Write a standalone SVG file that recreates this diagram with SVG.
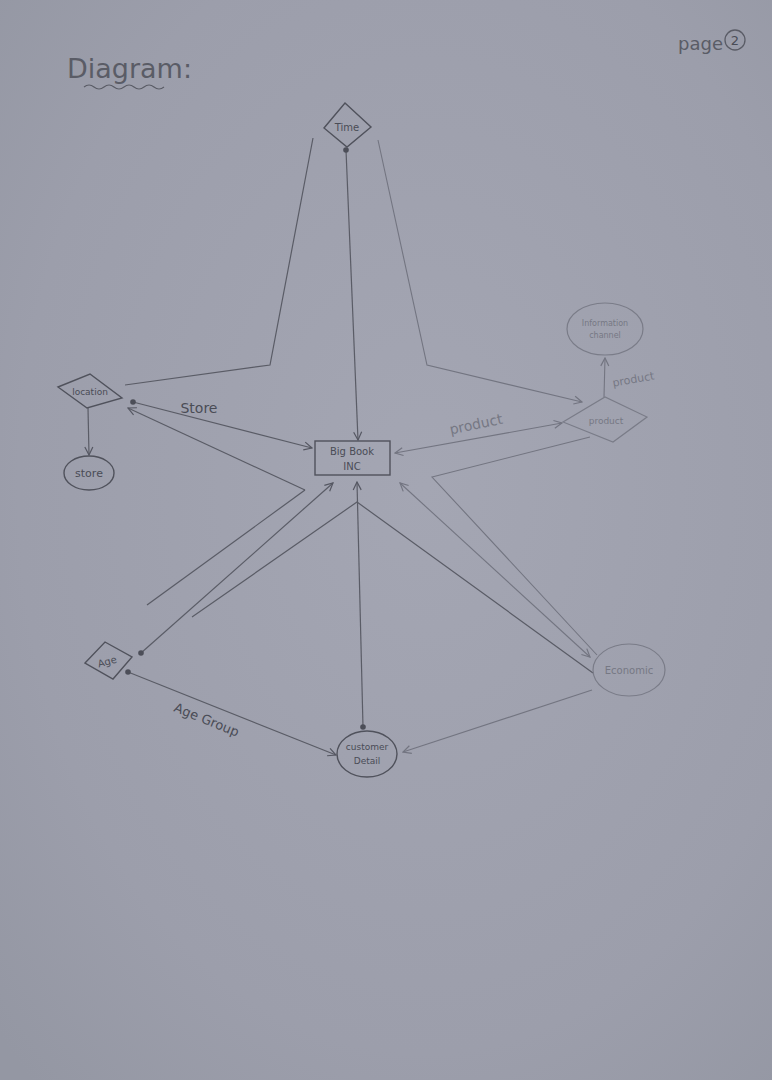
<svg xmlns="http://www.w3.org/2000/svg" width="772" height="1080" viewBox="0 0 772 1080">
<defs>
<radialGradient id="bg" cx="0.55" cy="0.45" r="0.75">
<stop offset="0" stop-color="#a4a6b3"/>
<stop offset="0.7" stop-color="#9c9eab"/>
<stop offset="1" stop-color="#9497a3"/>
</radialGradient>
<marker id="arr" viewBox="0 0 10 10" refX="9" refY="5" markerWidth="10" markerHeight="10" markerUnits="userSpaceOnUse" orient="auto-start-reverse">
<path d="M1,1 L9,5 L1,9" fill="none" stroke="#555762" stroke-width="1.2"/>
</marker>
<marker id="arrL" viewBox="0 0 10 10" refX="9" refY="5" markerWidth="10" markerHeight="10" markerUnits="userSpaceOnUse" orient="auto-start-reverse">
<path d="M1,1 L9,5 L1,9" fill="none" stroke="#737581" stroke-width="1.2"/>
</marker>
<marker id="dot" viewBox="0 0 10 10" refX="5" refY="5" markerWidth="7" markerHeight="7" markerUnits="userSpaceOnUse">
<circle cx="5" cy="5" r="4" fill="#4c4e58"/>
</marker>
</defs>
<style>
.ln{fill:none;stroke:#5a5c66;stroke-width:1.2}
.lt{fill:none;stroke:#737581;stroke-width:1.1}
.sh{fill:none;stroke:#50525c;stroke-width:1.4}
.shl{fill:none;stroke:#7a7c88;stroke-width:1.2}
.t{font-family:"DejaVu Sans",sans-serif;fill:#4a4c56;text-anchor:middle}
.tl{font-family:"DejaVu Sans",sans-serif;fill:#767884;text-anchor:middle}
</style>
<rect width="772" height="1080" fill="url(#bg)"/>

<g id="title">
<text x="67" y="78" font-family="DejaVu Sans, sans-serif" font-size="27" fill="#5a5c66">Diagram:</text>
<path d="M84,87 q5,-4 10,0 q5,4 10,0 q5,-4 10,0 q5,4 10,0 q5,-4 10,0 q5,4 10,0 q5,-4 10,0 q5,4 10,0" fill="none" stroke="#5a5c66" stroke-width="1.2"/>
</g>
<g id="page">
<text x="678" y="50" font-family="DejaVu Sans, sans-serif" font-size="18" fill="#5a5c66">page</text>
<circle cx="735" cy="40" r="10" fill="none" stroke="#5a5c66" stroke-width="1.3"/>
<text x="735" y="45" class="t" font-size="13" fill="#5a5c66">2</text>
</g>

<g id="connectors">
<path class="ln" d="M346,150 L358,440" marker-start="url(#dot)" marker-end="url(#arr)"/>
<path class="ln" d="M313,138 L270,365 L125,385"/>
<path class="lt" d="M378,140 L427,365 L582,402" marker-end="url(#arrL)"/>
<path class="ln" d="M88,408 L89,455" marker-end="url(#arr)"/>
<path class="ln" d="M133,402 L312,448" marker-start="url(#dot)" marker-end="url(#arr)"/>
<path class="ln" d="M128,408 L305,490" marker-start="url(#arr)"/>
<path class="ln" d="M147,605 L305,490"/>
<path class="ln" d="M141,653 L333,483" marker-start="url(#dot)" marker-end="url(#arr)"/>
<path class="ln" d="M192,617 L357,502 L593,673"/>
<path class="ln" d="M363,727 L357,482" marker-start="url(#dot)" marker-end="url(#arr)"/>
<path class="lt" d="M400,483 L590,657" marker-start="url(#arrL)" marker-end="url(#arrL)"/>
<path class="lt" d="M590,437 L432,477 L597,655"/>
<path class="lt" d="M395,453 L562,423" marker-start="url(#arrL)" marker-end="url(#arrL)"/>
<path class="lt" d="M604,397 L605,358" marker-end="url(#arrL)"/>
<path class="lt" d="M592,690 L403,752" marker-end="url(#arrL)"/>
<path class="ln" d="M128,672 L336,755" marker-start="url(#dot)" marker-end="url(#arr)"/>
</g>

<g id="labels">
<text x="199" y="413" class="t" font-size="14">Store</text>
<text x="477" y="429" class="tl" font-size="14" transform="rotate(-12 477 429)">product</text>
<text x="634" y="383" class="tl" font-size="11" transform="rotate(-10 634 383)">product</text>
<text x="205" y="724" class="t" font-size="13" transform="rotate(22 205 724)">Age Group</text>
</g>

<g id="time">
<path class="sh" d="M345,103 L371,127 L347,147 L324,128 Z"/>
<text x="347" y="131" class="t" font-size="10">Time</text>
</g>
<g id="location">
<path class="sh" d="M58,387 L90,374 L122,398 L87,408 Z"/>
<text x="90" y="395" class="t" font-size="9">location</text>
</g>
<g id="store">
<ellipse class="sh" cx="89" cy="473" rx="25" ry="17"/>
<text x="89" y="477" class="t" font-size="11">store</text>
</g>
<g id="bigbook">
<rect class="sh" x="315" y="441" width="75" height="34"/>
<text x="352" y="455" class="t" font-size="10">Big Book</text>
<text x="352" y="470" class="t" font-size="10">INC</text>
</g>
<g id="product">
<path class="shl" d="M563,422 L605,397 L647,417 L613,442 Z"/>
<text x="606" y="424" class="tl" font-size="9">product</text>
</g>
<g id="infochannel">
<ellipse class="shl" cx="605" cy="329" rx="38" ry="26"/>
<text x="605" y="326" class="tl" font-size="8">Information</text>
<text x="605" y="338" class="tl" font-size="8">channel</text>
</g>
<g id="age">
<path class="sh" d="M85,663 L105,642 L132,657 L113,679 Z" stroke-width="2"/>
<text x="108" y="665" class="t" font-size="10" transform="rotate(-15 108 665)">Age</text>
</g>
<g id="economic">
<ellipse class="shl" cx="629" cy="670" rx="36" ry="26"/>
<text x="629" y="674" class="tl" font-size="10">Economic</text>
</g>
<g id="customer">
<ellipse class="sh" cx="367" cy="754" rx="30" ry="23"/>
<text x="367" y="750" class="t" font-size="9">customer</text>
<text x="367" y="764" class="t" font-size="9">Detail</text>
</g>
</svg>
